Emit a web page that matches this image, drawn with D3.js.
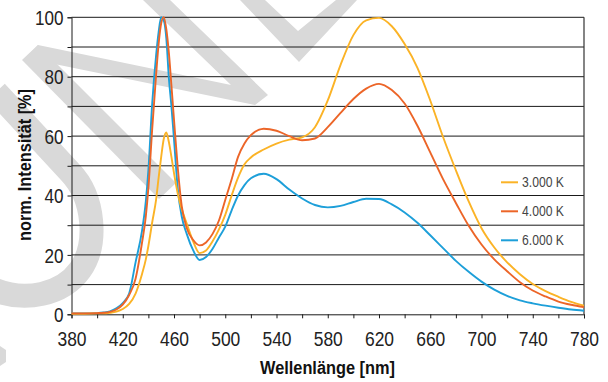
<!DOCTYPE html>
<html>
<head>
<meta charset="utf-8">
<script src="https://cdn.jsdelivr.net/npm/d3@7"></script>
<style>
  body { margin: 0; background: #fff; }
  svg { display: block; font-family: "Liberation Sans", Arial, sans-serif; }
</style>
</head>
<body>
<svg id="chart" width="608" height="382"></svg>
<script>
// Wavelength samples [nm], shared by all three spectra
const wavelengths = [
  380, 390, 400, 405, 410, 415, 420, 425, 430, 435,
  438, 440, 443, 446, 448, 450, 452, 454, 456, 458,
  460, 463, 466, 470, 475, 480, 485, 490, 495, 500,
  505, 510, 515, 520, 530, 540, 550, 560, 570, 580,
  590, 600, 610, 620, 630, 640, 650, 660, 670, 680,
  690, 700, 710, 720, 730, 740, 750, 760, 770, 780
];

// normalised intensity [%]
const k3000 = [
  0.2, 0.2, 0.3, 0.3, 0.5, 0.9, 1.8, 3.5, 7, 13.5,
  18.5, 23, 31, 38.5, 46, 53, 59, 61.2, 58, 53,
  47.5, 40.5, 35.5, 30.5, 24.5, 20.6, 21.5, 24.5, 28.5, 33.5,
  40, 46, 50.5, 52.8, 55.5, 57.5, 58.8, 59.6, 63, 72,
  84, 94, 99, 99.8, 97, 91, 83, 72, 59.7, 48.5,
  38, 29, 22.5, 17.5, 13.5, 10.2, 7.8, 5.9, 4.2, 2.9
];
const k4000 = [
  0.3, 0.3, 0.4, 0.5, 0.8, 1.6, 3.3, 6.5, 12, 24,
  33, 42.5, 62.5, 80.5, 91, 98, 100, 96, 88, 77,
  65.5, 49, 36.5, 29, 25, 23.2, 24.2, 27, 31.5, 38.5,
  45.5, 53, 57.5, 60.3, 62.5, 61.8, 60, 58.6, 59.2, 63,
  67.8, 72.5, 76, 77.6, 75.5, 71, 63.5, 54.5, 45.5, 37.5,
  29.8, 23.5, 18.5, 14.5, 10.8, 8, 6, 4.3, 3.2, 2.4
];
const k6000 = [
  0.3, 0.3, 0.4, 0.6, 1.0, 2.0, 3.8, 7, 17.5, 28,
  38, 48.5, 71, 87, 95, 100, 99, 93, 79.5, 70,
  59, 42, 33, 27, 21.5, 18.3, 19.3, 22, 25.8, 29.5,
  35, 40, 43.5, 45.8, 47.3, 45.5, 42, 39, 36.8, 36,
  36.5, 37.8, 38.9, 38.8, 37, 34.3, 30.8, 26.6, 22.3, 18,
  14.3, 11, 8.3, 6.2, 4.7, 3.7, 2.9, 2.2, 1.6, 1.2
];

const seriesNames = ['3.000 K', '4.000 K', '6.000 K'];
const seriesColors = ['#fbb326', '#ec6528', '#1d9fd9'];
const seriesValues = [k3000, k4000, k6000];

const xTicks = d3.range(380, 781, 20);
const yTicks = d3.range(0, 101, 10);

const svg = d3.select('#chart');
const plotLeft = 71.5, plotRight = 584, plotTop = 17.3, plotBottom = 314.3;

const x = d3.scaleLinear().domain([380, 780]).range([plotLeft, plotRight]);
const y = d3.scaleLinear().domain([0, 100]).range([plotBottom, plotTop]);

// Watermark ("MUSTER" stamp) — light grey, behind everything
const wm = svg.append('g').attr('fill', '#d9d9d9').attr('stroke', 'none');
wm.append('polygon').attr('points', '143,0 170,0 268,95 255,105 25,58 38,45 231,85');
wm.append('polygon').attr('points', '240,0 265,0 298,31 336,0 357,0 299,62');
wm.append('polygon').attr('points', '38,45 176,183 159,199 22,60');
wm.append('path')
  .attr('d', 'M -4,92 L 70,172 C 95,198 98,245 80,270 C 62,295 25,302 -5,290')
  .attr('fill', 'none').attr('stroke', '#d9d9d9').attr('stroke-width', 24);
wm.append('polygon').attr('points', '0,346 6,350 6,362 0,366');

// Horizontal grid lines
svg.append('g')
  .selectAll('line')
  .data(yTicks.filter(d => d > 0))
  .join('line')
  .attr('x1', plotLeft).attr('x2', plotRight)
  .attr('y1', d => y(d)).attr('y2', d => y(d))
  .attr('stroke', '#1a1a1a').attr('stroke-width', 1);

// Right border
svg.append('line')
  .attr('x1', plotRight).attr('x2', plotRight).attr('y1', plotTop).attr('y2', plotBottom)
  .attr('stroke', '#333').attr('stroke-width', 1.2);

// Y axis
const yAxis = svg.append('g')
  .attr('transform', `translate(${plotLeft},0)`)
  .call(d3.axisLeft(y).tickValues(yTicks).tickSize(4).tickPadding(4)
    .tickFormat(d => d % 20 === 0 ? d : ''));
yAxis.select('.domain').attr('stroke', '#1a1a1a');
yAxis.selectAll('.tick line').attr('stroke', '#1a1a1a');
yAxis.selectAll('.tick text')
  .attr('font-size', 20).attr('fill', '#222')
  .attr('font-family', '"Liberation Sans", Arial, sans-serif')
  .attr('dy', '0.36em')
  .attr('lengthAdjust', 'spacingAndGlyphs')
  .attr('textLength', function () { return this.textContent.length * 9.5; });

// X axis
const xAxis = svg.append('g')
  .attr('transform', `translate(0,${plotBottom})`)
  .call(d3.axisBottom(x).tickValues(xTicks).tickSize(4).tickPadding(14)
    .tickFormat(d => (d - 380) % 40 === 0 ? d : ''));
xAxis.select('.domain').attr('stroke', '#1a1a1a');
xAxis.selectAll('.tick line').attr('stroke', '#1a1a1a');
xAxis.selectAll('.tick text')
  .attr('font-size', 20).attr('fill', '#222')
  .attr('font-family', '"Liberation Sans", Arial, sans-serif')
  .attr('lengthAdjust', 'spacingAndGlyphs')
  .attr('textLength', function () { return this.textContent.length * 9.7; });

// Spectra — blue first, orange on top
const line = d3.line()
  .x(d => x(d[0]))
  .y(d => y(d[1]))
  .curve(d3.curveMonotoneX);

[2, 0, 1].forEach(i => {
  svg.append('path')
    .datum(wavelengths.map((w, j) => [w, seriesValues[i][j]]))
    .attr('d', line)
    .attr('fill', 'none')
    .attr('stroke', seriesColors[i])
    .attr('stroke-width', 1.9)
    .attr('stroke-linejoin', 'round');
});

// Legend
const legend = svg.append('g').attr('transform', 'translate(501,182.3)');
seriesNames.forEach((name, i) => {
  const row = legend.append('g').attr('transform', `translate(0,${i * 29})`);
  row.append('line')
    .attr('x1', 0).attr('x2', 17).attr('y1', 0).attr('y2', 0)
    .attr('stroke', seriesColors[i]).attr('stroke-width', 2);
  row.append('text')
    .attr('x', 21).attr('y', 5)
    .attr('font-size', 14).attr('fill', '#444')
    .attr('lengthAdjust', 'spacingAndGlyphs').attr('textLength', 42)
    .text(name);
});

// Axis titles
svg.append('text')
  .attr('x', 327.5).attr('y', 374)
  .attr('text-anchor', 'middle')
  .attr('font-size', 18).attr('font-weight', 'bold').attr('fill', '#111')
  .attr('lengthAdjust', 'spacingAndGlyphs').attr('textLength', 135)
  .text('Wellenlänge [nm]');

svg.append('text')
  .attr('transform', 'translate(31,165) rotate(-90)')
  .attr('text-anchor', 'middle')
  .attr('font-size', 18).attr('font-weight', 'bold').attr('fill', '#111')
  .attr('lengthAdjust', 'spacingAndGlyphs').attr('textLength', 152)
  .text('norm. Intensität [%]');
</script>
</body>
</html>
